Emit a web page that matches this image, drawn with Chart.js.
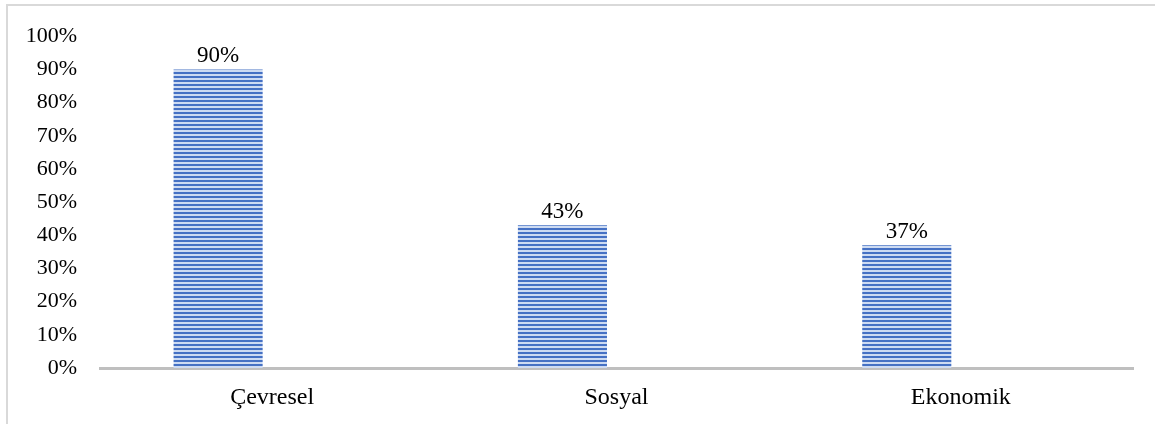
<!DOCTYPE html>
<html>
<head>
<meta charset="utf-8">
<script src="https://cdn.jsdelivr.net/npm/chart.js@4/dist/chart.umd.min.js"></script>
<style>
  html, body { margin: 0; padding: 0; background: #fff; }
  #wrap { position: relative; width: 1155px; height: 424px; }
  #frame { position: absolute; left: 6px; top: 4px; right: 0; bottom: 0; border-left: 2px solid #d9d9d9; border-top: 2px solid #d9d9d9; pointer-events: none; }
  canvas { position: absolute; left: 0; top: 0; }
</style>
</head>
<body>
<div id="wrap">
  <canvas id="chart" width="1155" height="424"></canvas>
  <div id="frame"></div>
</div>
<script>
// Chart data
const categories = ["Çevresel", "Sosyal", "Ekonomik"];
const shares = [90, 43, 37];
// the original has an empty second series slot, which pushes the bars left of the labels
const emptySeries = [null, null, null];
const yTicks = [0, 10, 20, 30, 40, 50, 60, 70, 80, 90, 100];

const FONT = "'Liberation Serif', 'Times New Roman', serif";

// horizontal stripe fill like the original
function stripePattern() {
  const c = document.createElement("canvas");
  c.width = 1; c.height = 4;
  const g = c.getContext("2d");
  g.fillStyle = "#4571c4"; g.fillRect(0, 0, 1, 2);
  g.fillStyle = "#cddbf2"; g.fillRect(0, 2, 1, 2);
  return g.createPattern(c, "repeat");
}

// value labels above bars
const valueLabels = {
  id: "valueLabels",
  afterDatasetsDraw(chart) {
    const ctx = chart.ctx;
    const meta = chart.getDatasetMeta(0);
    ctx.save();
    ctx.font = "23px " + FONT;
    ctx.fillStyle = "#000";
    ctx.textAlign = "center";
    ctx.textBaseline = "alphabetic";
    meta.data.forEach((bar, i) => {
      ctx.fillText(shares[i] + "%", bar.x, bar.y - 7);
    });
    ctx.restore();
  },
};

Chart.defaults.font.family = FONT;
Chart.defaults.font.size = 22;
Chart.defaults.color = "#000";

new Chart(document.getElementById("chart").getContext("2d"), {
  type: "bar",
  data: {
    labels: categories,
    datasets: [
      { data: shares, backgroundColor: stripePattern(), borderWidth: 0, barPercentage: 0.824, categoryPercentage: 0.628 },
      { data: emptySeries, backgroundColor: "transparent", borderWidth: 0, barPercentage: 0.824, categoryPercentage: 0.628 },
    ],
  },
  options: {
    responsive: false,
    animation: false,
    layout: { padding: { top: 35, right: 22, left: 0, bottom: 0 } },
    plugins: { legend: { display: false }, tooltip: { enabled: false } },
    scales: {
      x: {
        grid: { display: false, drawTicks: false },
        border: { display: true, color: "#bfbfbf", width: 3 },
        ticks: { padding: 15, font: { size: 24 } },
        afterFit(scale) { scale.height = 56; },
      },
      y: {
        min: 0,
        max: 100,
        afterBuildTicks(scale) { scale.ticks = yTicks.map((v) => ({ value: v })); },
        grid: { display: false, drawTicks: false },
        border: { display: false },
        ticks: { padding: 23, font: { size: 22 }, callback: (v) => v + "%" },
        afterFit(scale) { scale.width = 100; },
      },
    },
  },
  plugins: [valueLabels],
});
</script>
</body>
</html>
